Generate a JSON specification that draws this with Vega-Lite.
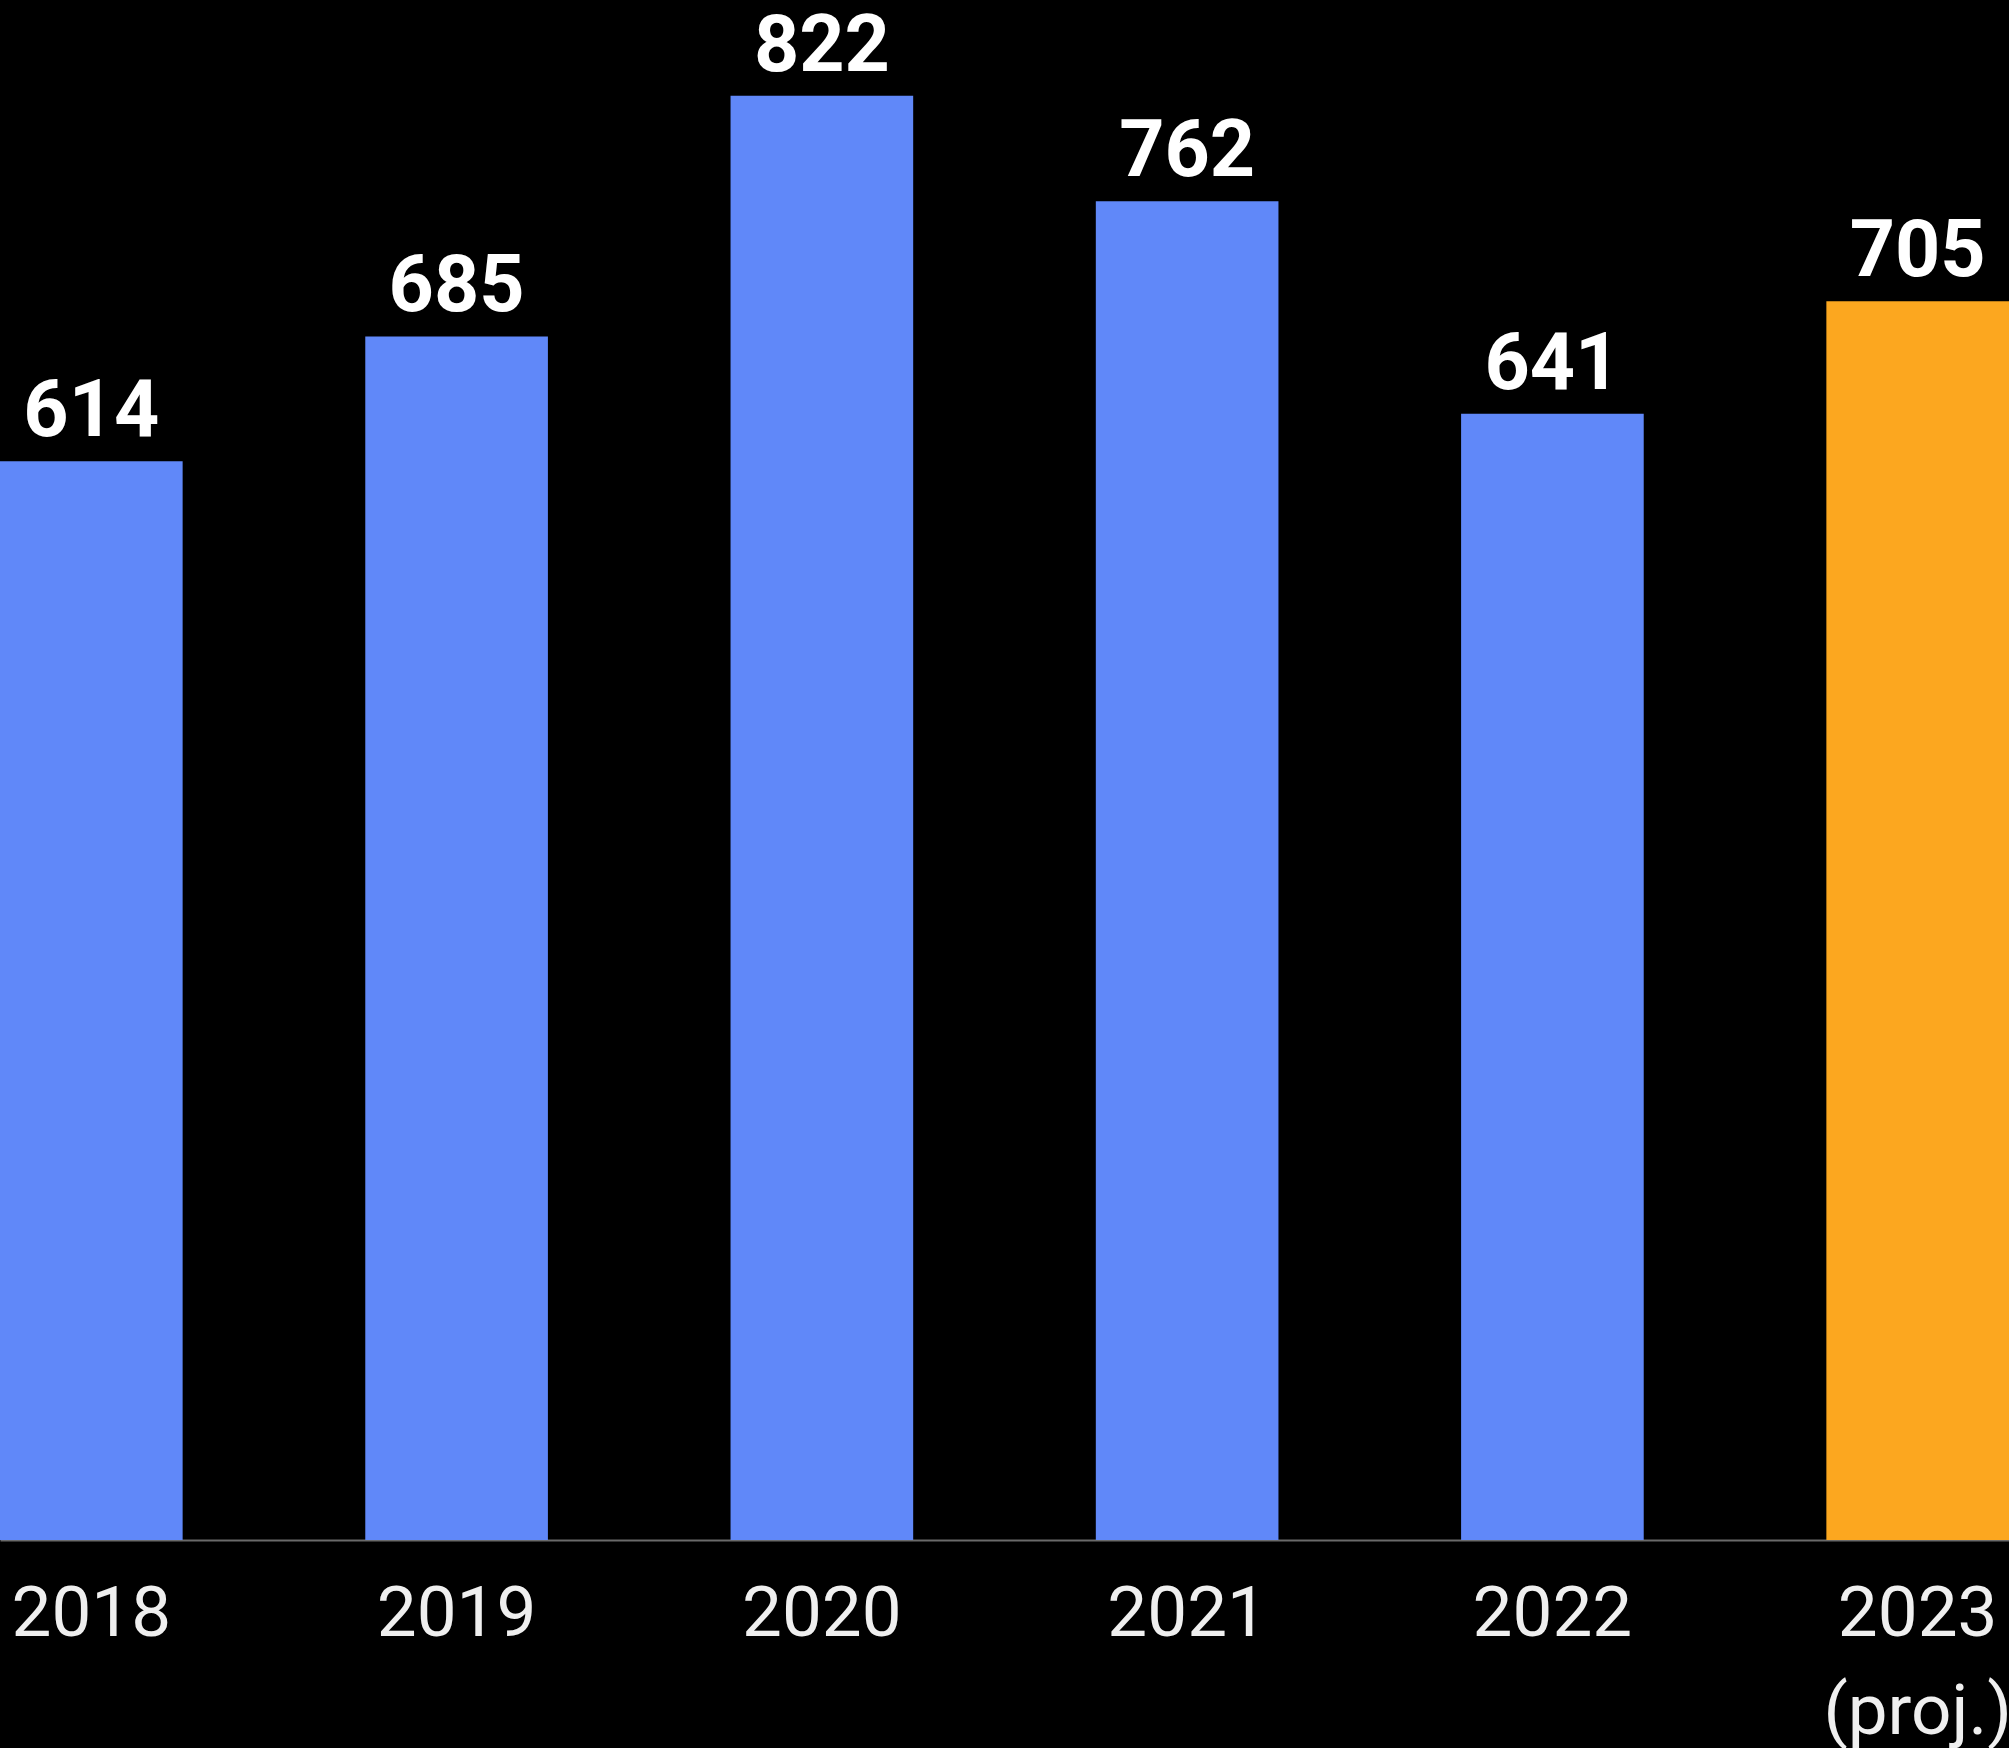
{
  "$schema": "https://vega.github.io/schema/vega-lite/v6.json",
  "width": 2009,
  "height": 1540,
  "autosize": {"type": "none"},
  "padding": {"left": 0, "top": 0, "right": 0, "bottom": 208},
  "background": "#000000",
  "config": {"view": {"stroke": null}},
  "data": {
    "values": [
      {"year": "2018", "value": 614, "kind": "actual"},
      {"year": "2019", "value": 685, "kind": "actual"},
      {"year": "2020", "value": 822, "kind": "actual"},
      {"year": "2021", "value": 762, "kind": "actual"},
      {"year": "2022", "value": 641, "kind": "actual"},
      {"year": "2023", "value": 705, "kind": "projected"}
    ]
  },
  "encoding": {
    "x": {
      "field": "year",
      "type": "nominal",
      "sort": null,
      "scale": {"paddingInner": 0.5, "paddingOuter": 0},
      "axis": {
        "title": null,
        "labelAngle": 0,
        "ticks": false,
        "grid": false,
        "domain": true,
        "domainColor": "#6a6a6a",
        "domainWidth": 2,
        "labelFont": "Roboto",
        "labelFontSize": 71,
        "labelColor": "#efefef",
        "labelPadding": 39,
        "labelLineHeight": 98,
        "labelLimit": 0,
        "labelOverlap": false,
        "labelExpr": "datum.value == '2023' ? ['2023', '(proj.)'] : datum.value"
      }
    },
    "y": {
      "field": "value",
      "type": "quantitative",
      "scale": {"domain": [0, 876.5], "nice": false, "zero": true},
      "axis": null
    }
  },
  "layer": [
    {
      "mark": {"type": "bar"},
      "encoding": {
        "color": {
          "field": "kind",
          "type": "nominal",
          "scale": {"domain": ["actual", "projected"], "range": ["#6088F9", "#FCA71F"]},
          "legend": null
        }
      }
    },
    {
      "mark": {
        "type": "text",
        "baseline": "alphabetic",
        "dy": -25,
        "font": "Roboto",
        "fontWeight": "bold",
        "fontSize": 79,
        "color": "#ffffff"
      },
      "encoding": {
        "text": {"field": "value", "type": "quantitative"}
      }
    }
  ]
}
